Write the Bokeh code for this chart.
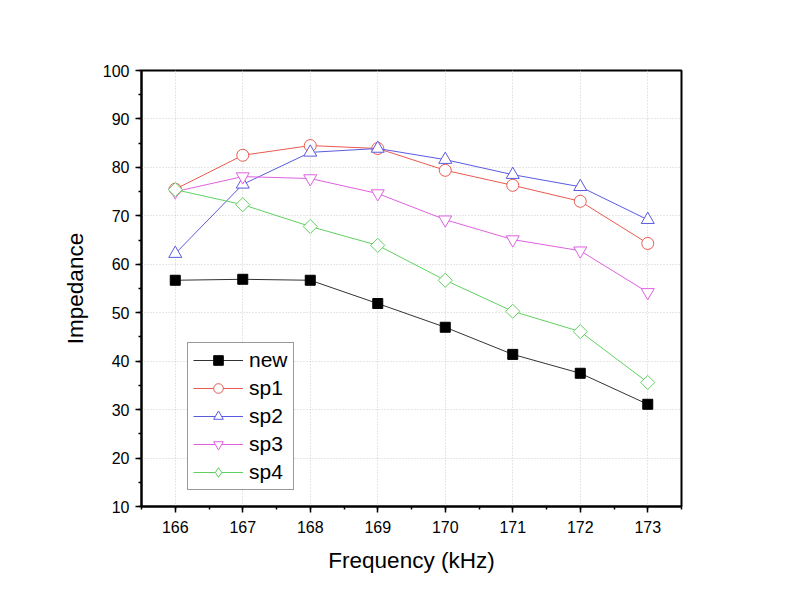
import math
from bokeh.plotting import figure
from bokeh.embed import file_html
from bokeh.resources import INLINE
from bokeh.models import Range1d, FixedTicker, Legend, LegendItem

freq = [166, 167, 168, 169, 170, 171, 172, 173]
new = [56.7, 56.9, 56.7, 51.9, 47.0, 41.4, 37.5, 31.1]
sp1 = [75.5, 82.5, 84.5, 83.9, 79.4, 76.3, 73.0, 64.3]
sp2 = [62.2, 76.5, 83.1, 83.9, 81.6, 78.5, 76.0, 69.2]
sp3 = [75.0, 78.1, 77.7, 74.6, 69.2, 65.1, 62.8, 54.2]
sp4 = [75.4, 72.3, 67.8, 63.9, 56.7, 50.3, 46.1, 35.6]
names = ["new", "sp1", "sp2", "sp3", "sp4"]
x_ticks = [166, 167, 168, 169, 170, 171, 172, 173]
y_ticks = [10, 20, 30, 40, 50, 60, 70, 80, 90, 100]

FONT = "Liberation Sans"

p = figure(width=778, height=592, output_backend="svg", toolbar_location=None,
           x_range=Range1d(165.5, 173.5), y_range=Range1d(10, 100),
           min_border_left=141, min_border_right=97, min_border_top=70, min_border_bottom=86)
p.background_fill_color = "white"
p.border_fill_color = "white"
p.outline_line_color = "black"
p.outline_line_width = 2

for ax in (p.xaxis[0], p.yaxis[0]):
    ax.axis_line_width = 2
    ax.axis_line_color = "black"
    ax.major_tick_line_width = 1.5
    ax.minor_tick_line_width = 1.5
    ax.major_tick_out = 6
    ax.major_tick_in = 0
    ax.minor_tick_out = 3
    ax.minor_tick_in = 0
    ax.major_label_text_font = FONT
    ax.major_label_text_font_size = "16px"
    ax.major_label_text_color = "black"
    ax.axis_label_text_font = FONT
    ax.axis_label_text_font_size = "22.5px"
    ax.axis_label_text_font_style = "normal"
    ax.axis_label_text_color = "black"

p.xaxis.ticker = FixedTicker(ticks=x_ticks, minor_ticks=[165.5 + 0.5 * i for i in range(17)])
p.yaxis.ticker = FixedTicker(ticks=y_ticks, minor_ticks=[10 + 5 * i for i in range(19)])
p.xaxis.axis_label = "Frequency (kHz)"
p.yaxis.axis_label = "Impedance"
p.xaxis.major_label_standoff = 8
p.yaxis.major_label_standoff = 6
p.xaxis.axis_label_standoff = 12
p.yaxis.axis_label_standoff = 12

p.xgrid.ticker = FixedTicker(ticks=x_ticks)
p.ygrid.ticker = FixedTicker(ticks=y_ticks)
for g in (p.xgrid[0], p.ygrid[0]):
    g.grid_line_color = "#cccccc"
    g.grid_line_dash = "1 2"
    g.grid_line_width = 1

series = [new, sp1, sp2, sp3, sp4]
colors = ["#333333", "#E85A50", "#5A5AE0", "#E060E0", "#60D060"]
markers = ["square", "circle", "triangle", "inverted_triangle", "square"]
sizes = [10, 12, 13, 13, 10]
angles = [0, 0, 0, 0, math.pi / 4]

items = []
for name, ys, c, m, s, a in zip(names, series, colors, markers, sizes, angles):
    l = p.line(freq, ys, line_color=c, line_width=1)
    if name == "new":
        r = p.scatter(freq, ys, marker=m, size=s, fill_color="black", line_color="black")
    else:
        r = p.scatter(freq, ys, marker=m, size=s, angle=a, fill_color="white",
                      line_color=c, line_width=1)
    if a != 0:
        # legend-only diamond (rotated markers are drawn unrotated in legends)
        r = p.scatter(freq, ys, marker="diamond", size=s, fill_color="white",
                      line_color=c, line_width=1, visible=False)
    items.append(LegendItem(label=name, renderers=[l, r]))

legend = Legend(items=items, location=(46, 16))
legend.label_text_font = FONT
legend.label_text_font_size = "21px"
legend.label_text_color = "black"
legend.glyph_width = 50
legend.glyph_height = 24
legend.label_height = 24
legend.spacing = 4
legend.padding = 5
legend.margin = 0
legend.label_standoff = 6
legend.border_line_color = "#333333"
legend.border_line_width = 1
legend.background_fill_alpha = 1
p.add_layout(legend, "center")

open("out.html", "w").write(file_html(p, INLINE))
